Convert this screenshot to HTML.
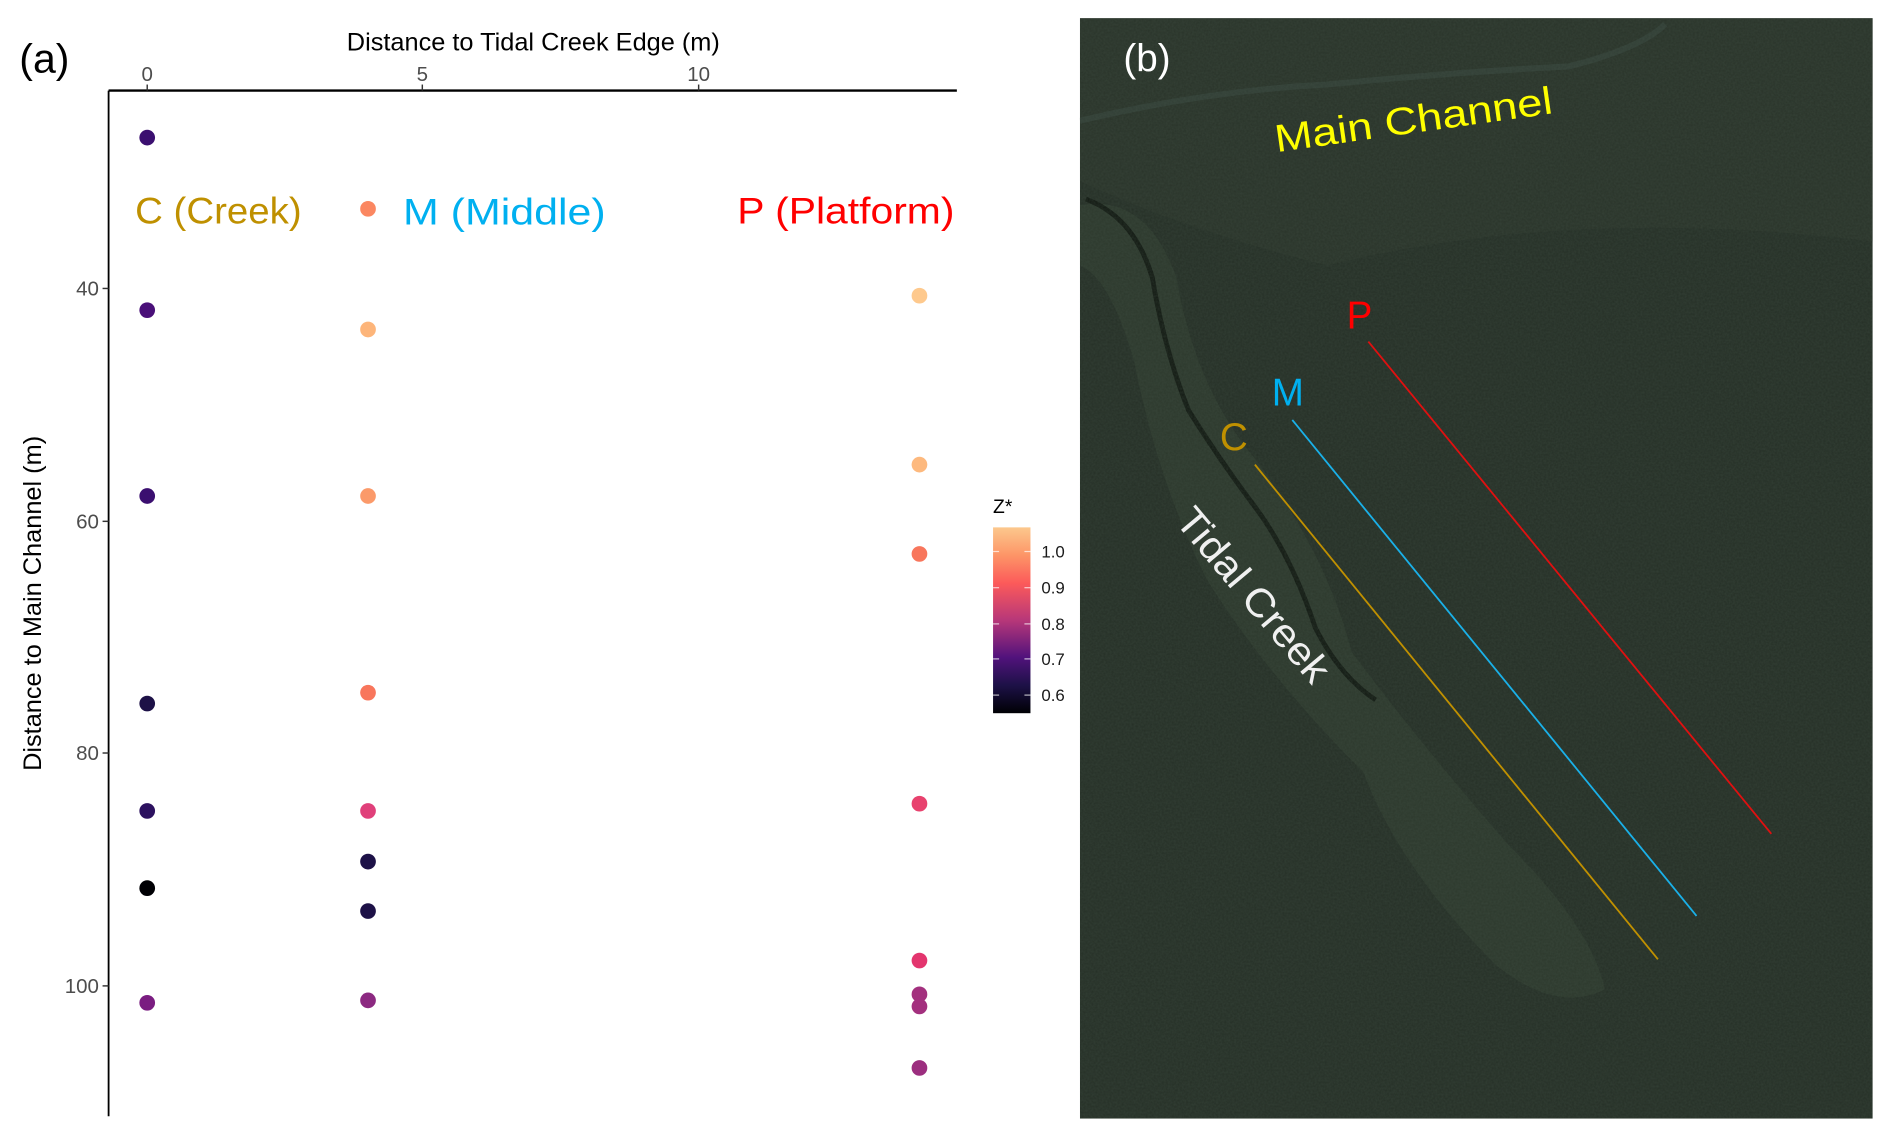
<!DOCTYPE html>
<html><head><meta charset="utf-8"><style>html,body{margin:0;padding:0;background:#fff}svg{display:block}</style></head>
<body>
<svg width="1892" height="1138" viewBox="0 0 1568 943" xmlns="http://www.w3.org/2000/svg" font-family="Liberation Sans, sans-serif">
<defs>
<linearGradient id="mg" x1="0" y1="1" x2="0" y2="0">
<stop offset="0" stop-color="#000004"/><stop offset="0.15" stop-color="#1d1147"/><stop offset="0.3" stop-color="#51127c"/><stop offset="0.5" stop-color="#b73779"/><stop offset="0.7" stop-color="#fc5a5a"/><stop offset="0.85" stop-color="#fd9567"/><stop offset="1" stop-color="#fcc88d"/>
</linearGradient>
<filter id="tex" x="0" y="0" width="1" height="1" filterUnits="objectBoundingBox"><feTurbulence type="fractalNoise" baseFrequency="0.6" numOctaves="2" seed="3"/><feColorMatrix values="0 0 0 0 0.08  0 0 0 0 0.12  0 0 0 0 0.09  0 0 0 0.3 0"/></filter>
<clipPath id="cp"><rect x="895" y="15" width="657" height="912"/></clipPath>
</defs>
<rect width="1568" height="943" fill="#fff"/>
<!-- panel a -->
<text x="16" y="60" font-size="34">(a)</text>
<text x="442" y="42" font-size="21" text-anchor="middle">Distance to Tidal Creek Edge (m)</text>
<g font-size="17" fill="#4d4d4d" text-anchor="middle"><text x="122" y="67">0</text><text x="350" y="67">5</text><text x="579" y="67">10</text></g>
<line x1="90" y1="75" x2="793" y2="75" stroke="#000" stroke-width="2"/>
<line x1="90" y1="75" x2="90" y2="925" stroke="#000" stroke-width="1.5"/>
<g stroke="#333" stroke-width="1.2"><line x1="122" y1="70" x2="122" y2="75"/><line x1="350" y1="70" x2="350" y2="75"/><line x1="579" y1="70" x2="579" y2="75"/>
<line x1="85" y1="239" x2="90" y2="239"/><line x1="85" y1="432" x2="90" y2="432"/><line x1="85" y1="624" x2="90" y2="624"/><line x1="85" y1="817" x2="90" y2="817"/></g>
<g font-size="17" fill="#4d4d4d" text-anchor="end"><text x="82" y="245">40</text><text x="82" y="438">60</text><text x="82" y="630">80</text><text x="82" y="823">100</text></g>
<text transform="translate(34,500) rotate(-90)" font-size="21" text-anchor="middle">Distance to Main Channel (m)</text>
<g font-size="31"><text x="112" y="185" fill="#bf9000" textLength="138" lengthAdjust="spacingAndGlyphs">C (Creek)</text><text x="334" y="186" fill="#00b0f0" textLength="168" lengthAdjust="spacingAndGlyphs">M (Middle)</text><text x="611" y="185" fill="#ff0000" textLength="180" lengthAdjust="spacingAndGlyphs">P (Platform)</text></g>
<g>
<circle cx="122" cy="114" r="6.5" fill="#3b0f70"/><circle cx="122" cy="257" r="6.5" fill="#4a1079"/><circle cx="122" cy="411" r="6.5" fill="#3b0f70"/><circle cx="122" cy="583" r="6.5" fill="#1d1147"/><circle cx="122" cy="672" r="6.5" fill="#2c115f"/><circle cx="122" cy="736" r="6.5" fill="#000004"/><circle cx="122" cy="831" r="6.5" fill="#7a1d81"/>
<circle cx="305" cy="173" r="6.5" fill="#fb8761"/><circle cx="305" cy="273" r="6.5" fill="#fdb57a"/><circle cx="305" cy="411" r="6.5" fill="#fb9a6a"/><circle cx="305" cy="574" r="6.5" fill="#f8765c"/><circle cx="305" cy="672" r="6.5" fill="#e0407a"/><circle cx="305" cy="714" r="6.5" fill="#1d1147"/><circle cx="305" cy="755" r="6.5" fill="#1d1147"/><circle cx="305" cy="829" r="6.5" fill="#8c2981"/>
<circle cx="762" cy="245" r="6.5" fill="#fec98d"/><circle cx="762" cy="385" r="6.5" fill="#fdb97e"/><circle cx="762" cy="459" r="6.5" fill="#f8765c"/><circle cx="762" cy="666" r="6.5" fill="#e8426e"/><circle cx="762" cy="796" r="6.5" fill="#e3356e"/><circle cx="762" cy="824" r="6.5" fill="#a3307e"/><circle cx="762" cy="834" r="6.5" fill="#a3307e"/><circle cx="762" cy="885" r="6.5" fill="#9c2e7f"/>
</g>
<text x="823" y="425" font-size="16">Z*</text>
<rect x="823" y="437" width="31" height="154" fill="url(#mg)"/>
<g stroke="#fff" stroke-opacity="0.7" stroke-width="1"><line x1="823" y1="457" x2="828" y2="457"/><line x1="849" y1="457" x2="854" y2="457"/><line x1="823" y1="487" x2="828" y2="487"/><line x1="849" y1="487" x2="854" y2="487"/><line x1="823" y1="517" x2="828" y2="517"/><line x1="849" y1="517" x2="854" y2="517"/><line x1="823" y1="546" x2="828" y2="546"/><line x1="849" y1="546" x2="854" y2="546"/><line x1="823" y1="576" x2="828" y2="576"/><line x1="849" y1="576" x2="854" y2="576"/></g>
<g font-size="14" fill="#1a1a1a"><text x="863" y="462">1.0</text><text x="863" y="492">0.9</text><text x="863" y="522">0.8</text><text x="863" y="551">0.7</text><text x="863" y="581">0.6</text></g>
<!-- panel b -->
<g clip-path="url(#cp)">
<rect x="895" y="15" width="657" height="912" fill="#252f26"/>
<path d="M895 15 H1552 V200 Q1300 170 1100 220 Q980 190 895 150Z" fill="#2a352a" opacity="0.8"/>
<path d="M895 170 Q950 160 975 230 Q990 320 1040 380 Q1100 460 1120 540 Q1180 620 1250 700 Q1320 770 1330 820 Q1290 840 1240 800 Q1160 720 1130 640 Q1050 560 1000 480 Q960 400 940 300 Q920 230 895 220Z" fill="#2e3b2e" opacity="0.8"/>
<path d="M900 165 Q940 180 955 230 Q965 290 985 340 Q1010 380 1040 420 Q1070 460 1090 520 Q1110 560 1140 580" fill="none" stroke="#121912" stroke-width="4"/>
<path d="M895 100 Q1000 75 1100 70 Q1200 60 1300 55 Q1360 40 1380 20" fill="none" stroke="#34433a" stroke-width="5" opacity="0.7"/>
<rect x="895" y="15" width="657" height="912" filter="url(#tex)"/>
</g>
<text x="931" y="59" font-size="32" fill="#fff">(b)</text>
<text transform="translate(1058,126) rotate(-8)" font-size="32" fill="#ffff00" textLength="232" lengthAdjust="spacingAndGlyphs">Main Channel</text>
<text transform="translate(973,432) rotate(50)" font-size="33" fill="#f0f0f0" textLength="178" lengthAdjust="spacingAndGlyphs">Tidal Creek</text>
<text x="1116" y="272" font-size="32" fill="#ff0000">P</text>
<text x="1054" y="336" font-size="32" fill="#00b0f0">M</text>
<text x="1011" y="373" font-size="32" fill="#bf9000">C</text>
<line x1="1134" y1="283" x2="1468" y2="691" stroke="#e01010" stroke-width="1.5"/>
<line x1="1071" y1="348" x2="1406" y2="759" stroke="#1ab0e8" stroke-width="1.5"/>
<line x1="1040" y1="385" x2="1374" y2="795" stroke="#c09000" stroke-width="1.5"/>
</svg>
</body></html>
